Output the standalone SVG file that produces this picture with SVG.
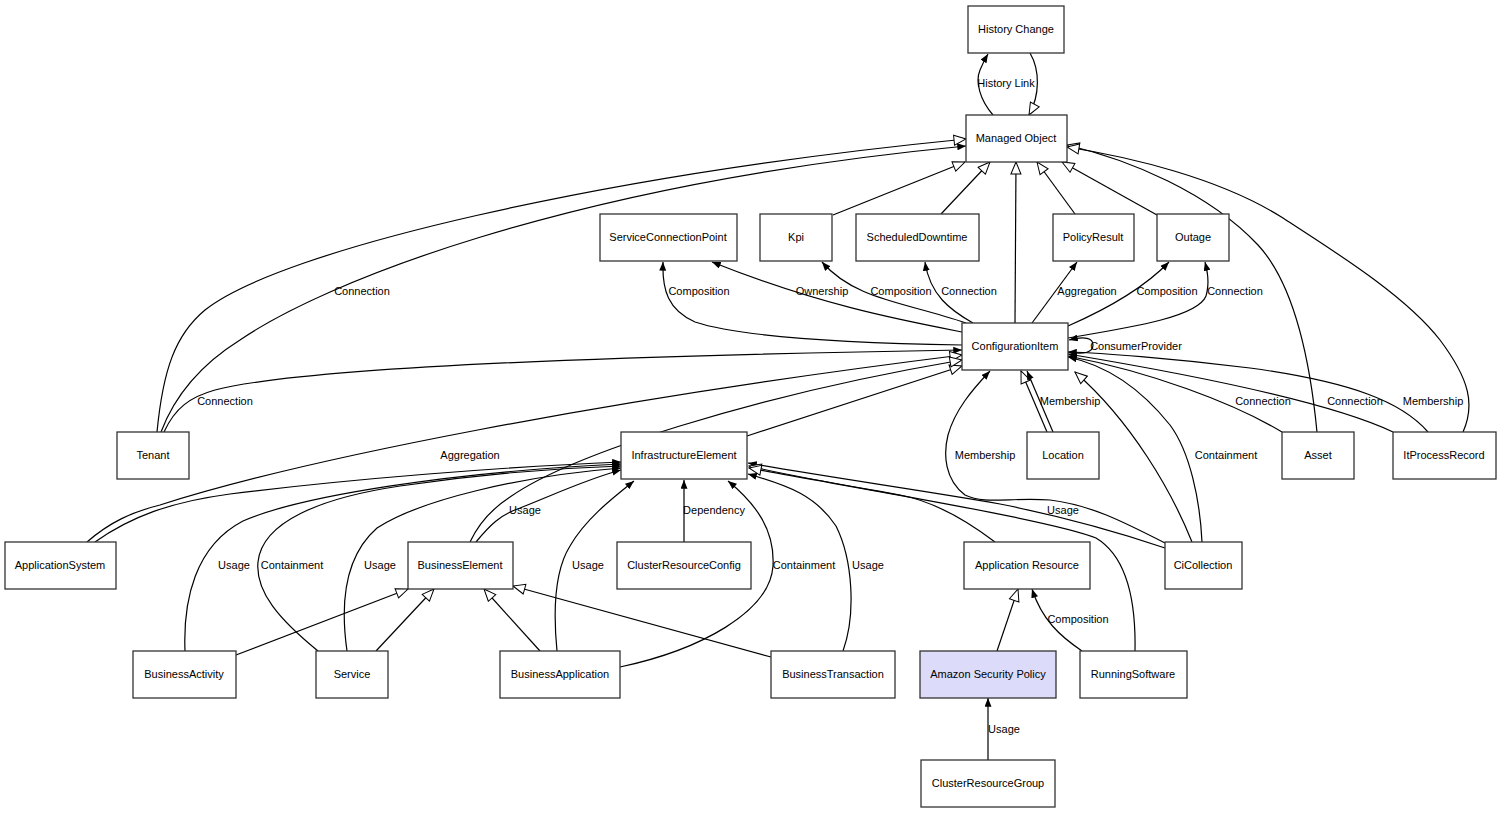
<svg xmlns="http://www.w3.org/2000/svg" width="1501" height="815" viewBox="0 0 1501 815">
<style>
.n rect{fill:#fff;stroke:#333;stroke-width:1.3}
.n text,.lb text{font-family:"Liberation Sans",Arial,sans-serif;font-size:11px;fill:#000}
.n text{text-anchor:middle}
.lb text{text-anchor:middle}
.e path{fill:none;stroke:#000;stroke-width:1.2}
.f{marker-end:url(#fa)}
.h{marker-end:url(#ha)}
</style>
<defs>
<marker id="fa" viewBox="0 0 10 8" refX="10" refY="4" markerWidth="9" markerHeight="7" orient="auto" markerUnits="userSpaceOnUse"><path d="M0,0 L10,4 L0,8 z" fill="#000"/></marker>
<marker id="ha" viewBox="0 0 14 12" refX="13" refY="6" markerWidth="14" markerHeight="12" orient="auto" markerUnits="userSpaceOnUse"><path d="M1,1 L13,6 L1,11 z" fill="#fff" stroke="#000" stroke-width="1"/></marker>
</defs>
<rect width="1501" height="815" fill="#fff"/>
<g id="connectors" class="e">
<path class="f" d="M993,115 C980,100 975,82 980,70 C983,63 985,59 988,54"/>
<path class="h" d="M1030,53 C1040,70 1040,95 1029,115"/>
<path class="h" d="M157,432 C163,370 175,335 205,310 C280,250 600,175 966,139"/>
<path class="f" d="M161,432 C175,395 200,365 240,340 C320,285 560,185 966,146"/>
<path class="f" d="M164,432 C175,408 190,397 215,390 C300,368 600,356 962,350"/>
<path class="h" d="M833,215 L965,162"/>
<path class="h" d="M941,214 L990,162"/>
<path class="h" d="M1015,323 L1016,162"/>
<path class="h" d="M1075,214 L1037,162"/>
<path class="h" d="M1157,215 L1062,162"/>
<path class="h" d="M1317,432 C1310,360 1295,285 1258,245 C1208,192 1130,160 1067,145"/>
<path class="h" d="M1463,432 C1475,405 1470,380 1440,340 C1405,295 1335,252 1283,218 C1220,178 1130,157 1067,147"/>
<path class="f" d="M962,345 C850,343 740,337 695,322 C668,310 662,290 663,262"/>
<path class="f" d="M962,332 C900,320 820,305 712,262"/>
<path class="f" d="M966,323 C905,302 855,300 822,262"/>
<path class="f" d="M973,323 C950,310 930,295 925,262"/>
<path class="f" d="M1032,323 L1077,262"/>
<path class="f" d="M1068,326 C1100,312 1140,292 1169,262"/>
<path class="f" d="M1068,338 C1140,326 1198,316 1206,296 C1210,282 1207,270 1205,262"/>
<path class="f" d="M1068,352 C1085,355 1093,352 1093,345 C1093,338 1085,336 1069,340"/>
<path class="f" d="M1282,432 C1232,402 1150,372 1068,356"/>
<path class="f" d="M1393,432 C1330,402 1200,376 1068,354"/>
<path class="f" d="M1428,432 C1402,402 1352,382 1250,368 C1170,358 1100,353 1068,352"/>
<path class="h" d="M1047,432 L1021,371"/>
<path class="f" d="M1053,432 L1027,371"/>
<path class="h" d="M1192,542 C1172,492 1132,422 1075,372"/>
<path class="f" d="M1202,542 C1200,500 1190,452 1170,425 C1142,390 1110,366 1068,357"/>
<path class="f" d="M1165,543 C1120,520 1090,505 1050,500 C1010,497 985,505 965,495 C945,480 943,455 948,435 C955,410 972,390 990,371"/>
<path class="f" d="M1165,548 C1100,526 1040,512 1000,504 C920,490 820,476 748,463"/>
<path class="h" d="M995,542 C962,517 932,501 900,495 C850,486 790,476 749,466"/>
<path class="h" d="M1135,651 C1136,600 1126,556 1096,538 C1052,520 850,487 749,468"/>
<path class="f" d="M843,651 C856,615 853,560 836,526 C816,496 790,486 748,474"/>
<path class="f" d="M620,667 C700,650 770,612 773,566 C775,530 756,504 728,481"/>
<path class="f" d="M557,651 C553,610 555,570 570,546 C585,520 610,500 634,481"/>
<path class="f" d="M684,542 L684,480"/>
<path class="h" d="M747,436 L962,366"/>
<path class="h" d="M87,542 C110,522 132,512 160,505 C300,460 600,400 962,355"/>
<path class="f" d="M95,542 C130,517 170,502 230,494 C350,479 500,467 621,462"/>
<path class="f" d="M185,651 C183,600 195,546 243,521 C300,496 450,472 621,464"/>
<path class="f" d="M318,651 C280,620 255,592 258,562 C262,522 320,498 400,486 C480,474 560,468 621,466"/>
<path class="f" d="M347,651 C340,602 345,556 377,528 C420,500 520,476 621,468"/>
<path class="f" d="M476,542 C490,525 500,515 520,508 C560,492 590,478 621,470"/>
<path class="h" d="M470,542 C478,525 490,510 510,497 C570,455 750,396 962,360"/>
<path class="h" d="M236,655 L408,589"/>
<path class="h" d="M376,651 L434,589"/>
<path class="h" d="M540,651 L484,589"/>
<path class="h" d="M771,657 L513,586"/>
<path class="h" d="M997,651 L1018,589"/>
<path class="f" d="M1082,651 C1060,636 1042,620 1032,589"/>
<path class="f" d="M988,760 L988,698"/>
</g>
<g class="lb">
<text x="1006" y="87">History Link</text>
<text x="362" y="295">Connection</text>
<text x="699" y="295">Composition</text>
<text x="822" y="295">Ownership</text>
<text x="901" y="295">Composition</text>
<text x="969" y="295">Connection</text>
<text x="1087" y="295">Aggregation</text>
<text x="1167" y="295">Composition</text>
<text x="1235" y="295">Connection</text>
<text x="1136" y="350">ConsumerProvider</text>
<text x="225" y="405">Connection</text>
<text x="1070" y="405">Membership</text>
<text x="1263" y="405">Connection</text>
<text x="1355" y="405">Connection</text>
<text x="1433" y="405">Membership</text>
<text x="470" y="459">Aggregation</text>
<text x="985" y="459">Membership</text>
<text x="1226" y="459">Containment</text>
<text x="525" y="514">Usage</text>
<text x="714" y="514">Dependency</text>
<text x="1063" y="514">Usage</text>
<text x="234" y="569">Usage</text>
<text x="292" y="569">Containment</text>
<text x="380" y="569">Usage</text>
<text x="588" y="569">Usage</text>
<text x="804" y="569">Containment</text>
<text x="868" y="569">Usage</text>
<text x="1078" y="623">Composition</text>
<text x="1004" y="733">Usage</text>
</g>
<g id="HistoryChange" class="n"><rect x="968" y="6" width="96" height="47"/><text x="1016" y="33">History Change</text></g>
<g id="ManagedObject" class="n"><rect x="966" y="115" width="101" height="47"/><text x="1016" y="142">Managed Object</text></g>
<g id="ServiceConnectionPoint" class="n"><rect x="600" y="214" width="137" height="47"/><text x="668" y="241">ServiceConnectionPoint</text></g>
<g id="Kpi" class="n"><rect x="760" y="214" width="72" height="47"/><text x="796" y="241">Kpi</text></g>
<g id="ScheduledDowntime" class="n"><rect x="856" y="214" width="123" height="47"/><text x="917" y="241">ScheduledDowntime</text></g>
<g id="PolicyResult" class="n"><rect x="1053" y="214" width="81" height="47"/><text x="1093" y="241">PolicyResult</text></g>
<g id="Outage" class="n"><rect x="1157" y="214" width="72" height="47"/><text x="1193" y="241">Outage</text></g>
<g id="ConfigurationItem" class="n"><rect x="962" y="323" width="106" height="47"/><text x="1015" y="350">ConfigurationItem</text></g>
<g id="Tenant" class="n"><rect x="117" y="432" width="72" height="47"/><text x="153" y="459">Tenant</text></g>
<g id="InfrastructureElement" class="n"><rect x="621" y="432" width="126" height="47"/><text x="684" y="459">InfrastructureElement</text></g>
<g id="Location" class="n"><rect x="1027" y="432" width="72" height="47"/><text x="1063" y="459">Location</text></g>
<g id="Asset" class="n"><rect x="1282" y="432" width="72" height="47"/><text x="1318" y="459">Asset</text></g>
<g id="ItProcessRecord" class="n"><rect x="1393" y="432" width="103" height="47"/><text x="1444" y="459">ItProcessRecord</text></g>
<g id="ApplicationSystem" class="n"><rect x="5" y="542" width="111" height="47"/><text x="60" y="569">ApplicationSystem</text></g>
<g id="BusinessElement" class="n"><rect x="408" y="542" width="105" height="47"/><text x="460" y="569">BusinessElement</text></g>
<g id="ClusterResourceConfig" class="n"><rect x="617" y="542" width="134" height="47"/><text x="684" y="569">ClusterResourceConfig</text></g>
<g id="ApplicationResource" class="n"><rect x="964" y="542" width="126" height="47"/><text x="1027" y="569">Application Resource</text></g>
<g id="CiCollection" class="n"><rect x="1165" y="542" width="77" height="47"/><text x="1203" y="569">CiCollection</text></g>
<g id="BusinessActivity" class="n"><rect x="133" y="651" width="103" height="47"/><text x="184" y="678">BusinessActivity</text></g>
<g id="Service" class="n"><rect x="316" y="651" width="72" height="47"/><text x="352" y="678">Service</text></g>
<g id="BusinessApplication" class="n"><rect x="500" y="651" width="120" height="47"/><text x="560" y="678">BusinessApplication</text></g>
<g id="BusinessTransaction" class="n"><rect x="771" y="651" width="124" height="47"/><text x="833" y="678">BusinessTransaction</text></g>
<g id="AmazonSecurityPolicy" class="n"><rect x="920" y="651" width="136" height="47" style="fill:#dcdcfa"/><text x="988" y="678">Amazon Security Policy</text></g>
<g id="RunningSoftware" class="n"><rect x="1080" y="651" width="107" height="47"/><text x="1133" y="678">RunningSoftware</text></g>
<g id="ClusterResourceGroup" class="n"><rect x="921" y="760" width="134" height="47"/><text x="988" y="787">ClusterResourceGroup</text></g>
</svg>
